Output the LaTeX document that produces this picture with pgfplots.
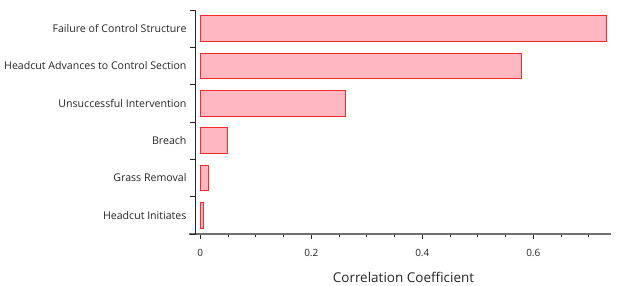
\documentclass[border=0pt]{standalone}
\usepackage{pgfplots}
\pgfplotsset{compat=1.18}
\usepackage{fontspec}
\setmainfont{Open Sans}
\definecolor{barfill}{RGB}{255,184,194}
\definecolor{baredge}{RGB}{255,40,40}
\definecolor{xaxisgrey}{RGB}{112,112,112}
\begin{document}
\begin{tikzpicture}
\useasboundingbox (-196pt,-51pt) rectangle (428pt,234pt);
\begin{axis}[
  at={(0pt,0pt)}, anchor=south west,
  scale only axis,
  width=415pt, height=224pt,
  xbar, bar width=25.7pt, bar shift=0pt,
  xmin=-0.0078, xmax=0.74,
  ymin=-0.5, ymax=5.5,
  axis lines*=left,
  axis line style={line width=1pt},
  x axis line style={xaxisgrey, line width=1.4pt, shorten <=-7pt},
  y axis line style={black!85},
  axis line style={-},
  tick align=outside,
  xtick={0,0.2,0.4,0.6},
  xticklabels={0,0.2,0.4,0.6},
  minor xtick={0.05,0.1,0.15,0.25,0.3,0.35,0.45,0.5,0.55,0.65,0.7},
  major tick length=5pt, minor tick length=3pt,
  tick style={black!85, line width=1pt},
  xticklabel style={font=\fontsize{10}{12}\selectfont, text=black!85, yshift=-7pt},
  ytick={0,1,2,3,4,5},
  yticklabels={Headcut Initiates,Grass Removal,Breach,Unsuccessful Intervention,Headcut Advances to Control Section,Failure of Control Structure},
  ytick style={draw=none},
  yticklabel style={font=\fontsize{10.6}{12}\selectfont, text=black!85, xshift=-1pt},
  extra y ticks={-0.5,0.5,1.5,2.5,3.5,4.5,5.5},
  extra y tick labels={},
  extra y tick style={ytick style={draw=black!85, line width=1pt}, major tick length=6pt},
  xlabel={Correlation Coefficient},
  xlabel style={font=\fontsize{13.5}{15}\selectfont, text=black!85, yshift=-8pt},
  clip=false,
]
\addplot[fill=barfill, draw=baredge, line width=0.9pt] coordinates {
  (0.005,0) (0.014,1) (0.049,2) (0.261,3) (0.579,4) (0.732,5)
};
\end{axis}
\end{tikzpicture}
\end{document}
